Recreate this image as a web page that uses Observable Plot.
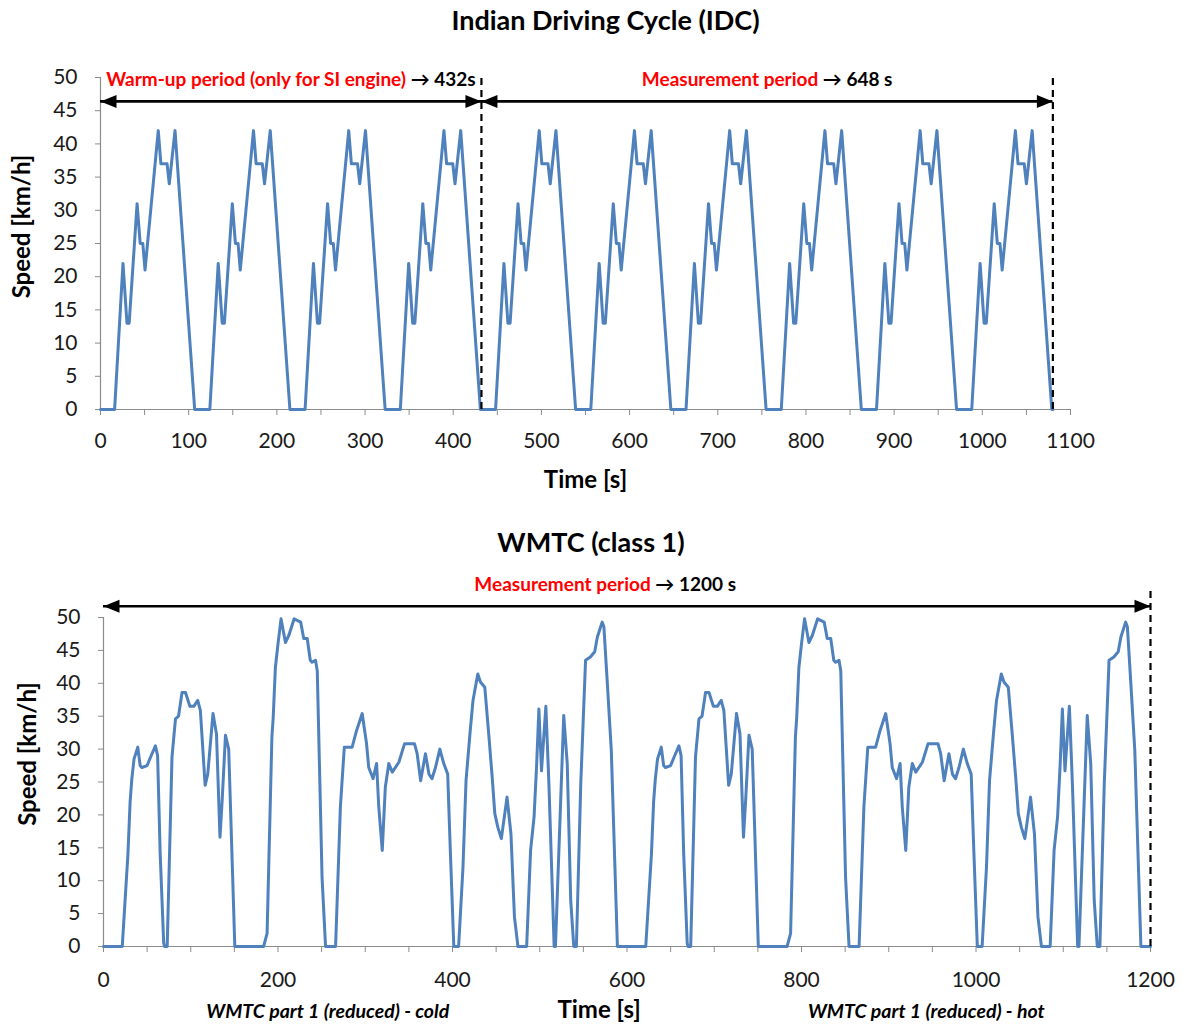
<!DOCTYPE html>
<html><head><meta charset="utf-8">
<script src="https://cdn.jsdelivr.net/npm/d3@7"></script>
<script src="https://cdn.jsdelivr.net/npm/@observablehq/plot@0.6"></script>
<style>
body{margin:0;background:#fff;font-family:Lato,"Open Sans",sans-serif;}
#wrap{position:relative;width:1185px;height:1025px;overflow:hidden;background:#fff;}
.title{position:absolute;left:0;font-weight:bold;font-size:27px;color:#000;text-align:center;white-space:nowrap;line-height:32px;}
.chart{position:absolute;left:0;}
</style></head><body>
<div id="wrap">
<div class="title" style="top:4px;width:1211px">Indian Driving Cycle (IDC)</div>
<div class="chart" id="c1" style="top:40px"></div>
<div class="title" style="top:526px;width:1182px">WMTC (class 1)</div>
<div class="chart" id="c2" style="top:560px"></div>
</div>
<script>
// ---------- IDC data (one 108 s cycle, repeated at the listed starts) ----------
const idcCycleTime  = [0, 16, 25.5, 30, 32.5, 41.5, 45, 48, 50.5, 65.5, 68.5, 75.5, 78, 84.5, 106.8, 108];
const idcCycleSpeed = [0, 0, 22, 13, 13, 31, 25, 25, 21, 42, 37, 37, 34, 42, 0, 0];
const idcCycleStarts = [0, 108, 216, 324, 432, 540, 648, 756, 864, 972];
const idcXTicks  = [0,50,100,150,200,250,300,350,400,450,500,550,600,650,700,750,800,850,900,950,1000,1050,1100];
const idcXLabels = [0,100,200,300,400,500,600,700,800,900,1000,1100];
const idcYTicks  = [0,5,10,15,20,25,30,35,40,45,50];
const idcArrows  = [{x1: 0, x2: 432, y: 46.4}, {x1: 432, x2: 1080, y: 46.4}];
const idcDashed  = [432, 1080];
const idcNotes   = [{x: 216, y: 49.6, text: "Warm-up period (only for SI engine)|\u2192 432s"},
                    {x: 756, y: 49.6, text: "Measurement period|\u2192 648 s"}];

// ---------- WMTC class 1 data (part 1 reduced, 600 s, cold then hot) ----------
const wmtcPartTime = [0,21.5,24.5,28,30.5,32.5,35,39.3,42,44,50,54,59.5,62,65,69,70,73,78.5,82.5,86,90,94,99,103.5,108,111,116.5,119.5,125.5,129.5,133.5,136,139.8,143.5,150.5,183.5,187.5,193,194.5,197,200,203.5,208.5,212.5,218.5,226,229.5,233.5,237,239,243,245,250.5,254.5,266,271.5,276,285,290,296.5,301.5,304,309,313,315.5,319.5,323,327,331,338.5,345,356.5,359.5,363.5,369,373,376.5,380.5,385.5,390,394.5,397.5,401.5,407,412,415.5,420,423.5,429,432,437,441.5,445.5,448.5,452,456,462.5,467,471,475,485,489.5,493.5,496.5,499,502,507,510.5,516.5,518,524,527.5,531.5,535.5,539,542,547,552.5,558,563,566,571.5,573.5,577.5,582,589,600];
const wmtcPartSpeed = [0,0,6.5,14,22,25.5,28.5,30.3,27.5,27.2,27.5,28.8,30.5,29,14,0.5,0,0,28.8,34.6,35,38.6,38.6,36.5,36.5,37.4,35.9,24.5,26.2,35.4,32.3,16.6,22.2,32.1,30,0,0,2,31.8,34.8,42.4,46,49.8,46.2,47.3,49.8,49.3,46.8,46.8,43.5,43.2,43.5,41.9,10.5,0,0,21.2,30.3,30.3,32.8,35.4,30.8,27.2,25.5,27.8,21.2,14.6,24.2,27.8,26.5,28,30.8,30.8,29.3,25.2,29.3,26.2,25.5,27.2,30,27.8,26.2,14.6,0,0,12,25.2,32.3,37.4,41.4,40.2,39.4,32.3,25.7,20.2,18.1,16.4,22.7,17.1,4.5,0,0,14.6,19.7,27.8,36.1,26.7,36.5,24.7,0,0,22.2,35.1,27.8,7,0,0,24.7,43.5,44,44.8,47,49.3,48.6,39.9,29.8,0,0];
const wmtcPartStarts = [0, 600];
const wmtcPartLabels = [{x: 257, text: "WMTC part 1 (reduced) - cold"}, {x: 943, text: "WMTC part 1 (reduced) - hot"}];
const wmtcXTicks  = [0,50,100,150,200,250,300,350,400,450,500,550,600,650,700,750,800,850,900,950,1000,1050,1100,1150,1200];
const wmtcXLabels = [0,200,400,600,800,1000,1200];
const wmtcYTicks  = [0,5,10,15,20,25,30,35,40,45,50];
const wmtcArrows  = [{x1: 0, x2: 1200, y: 51.7}];
const wmtcDashed  = [1200];
const wmtcNotes   = [{x: 575, y: 54.9, text: "Measurement period|\u2192 1200 s"}];
const wmtcTimeLabel = [{x: 568, text: "Time [s]"}];

// ---------- build series ----------
const idcData = idcCycleStarts.flatMap(s => idcCycleTime.map((t, i) => ({time: s + t, speed: idcCycleSpeed[i]})));
const wmtcData = wmtcPartStarts.flatMap(s => wmtcPartTime.map((t, i) => ({time: s + t, speed: wmtcPartSpeed[i]})));

const blue = "#4F81BD", axisGray = "#8c8c8c", tickText = "#1a1a1a";
const font = "Lato, 'Open Sans', sans-serif";
const headRight = {draw(ctx) { ctx.moveTo(0, 0); ctx.lineTo(-16, -6.5); ctx.lineTo(-16, 6.5); ctx.closePath(); }};
const headLeft  = {draw(ctx) { ctx.moveTo(0, 0); ctx.lineTo(16, -6.5); ctx.lineTo(16, 6.5); ctx.closePath(); }};

function annotMarks(arrows, dashed, notes, dashTop) {
  return [
    Plot.ruleX(dashed, {x: d => d, y1: 0, y2: dashTop, stroke: "black", strokeWidth: 2.2, strokeDasharray: "7,5"}),
    Plot.ruleY(arrows, {x1: "x1", x2: "x2", y: "y", stroke: "black", strokeWidth: 2.6}),
    Plot.dot(arrows, {x: "x1", y: "y", symbol: headLeft, r: 5, fill: "black", stroke: "none"}),
    Plot.dot(arrows, {x: "x2", y: "y", symbol: headRight, r: 5, fill: "black", stroke: "none"}),
    Plot.text(notes, {x: "x", y: "y", text: "text", fontWeight: "bold", fontSize: 19, textAnchor: "middle", lineAnchor: "middle", fill: "black"})
  ];
}

function colorize(svg) {
  d3.select(svg).selectAll("text").each(function() {
    const s = this.textContent;
    if (!s.includes("|")) return;
    const [a, b] = s.split("|");
    const sel = d3.select(this);
    sel.text(null);
    sel.append("tspan").attr("fill", "#FF0000").text(a);
    sel.append("tspan").attr("fill", "#000").text(" " + b);
  });
}

const p1 = Plot.plot({
  width: 1185, height: 460,
  marginTop: 37, marginBottom: 91, marginLeft: 100, marginRight: 115,
  style: {fontFamily: font, fontSize: "21px", background: "white", overflow: "visible"},
  x: {domain: [0, 1100]},
  y: {domain: [0, 50]},
  marks: [
    Plot.axisX({ticks: idcXTicks, tickFormat: d => idcXLabels.includes(d) ? String(d) : "", tickSize: 6, tickPadding: 18, stroke: axisGray, fill: tickText, fontSize: 21, label: null}),
    Plot.axisY({ticks: idcYTicks, tickSize: 5, tickPadding: 18, stroke: axisGray, fill: tickText, fontSize: 21, label: null}),
    Plot.ruleY([0], {stroke: axisGray, strokeWidth: 1.2}),
    Plot.ruleX([0], {y1: 0, y2: 50, stroke: axisGray, strokeWidth: 1.2}),
    Plot.line(idcData, {x: "time", y: "speed", stroke: blue, strokeWidth: 3, strokeLinejoin: "round"}),
    ...annotMarks(idcArrows, idcDashed, idcNotes, 50),
    Plot.text(["Speed [km/h]"], {frameAnchor: "left", textAnchor: "middle", dx: -78, dy: -17, rotate: -90, fontWeight: "bold", fontSize: 24, fill: "black"}),
    Plot.text(["Time [s]"], {frameAnchor: "bottom", textAnchor: "middle", dy: 78, fontWeight: "bold", fontSize: 24, fill: "black"})
  ]
});
colorize(p1);
document.getElementById("c1").append(p1);

const p2 = Plot.plot({
  width: 1185, height: 465,
  marginTop: 57, marginBottom: 79, marginLeft: 103, marginRight: 35,
  style: {fontFamily: font, fontSize: "21px", background: "white", overflow: "visible"},
  x: {domain: [0, 1200]},
  y: {domain: [0, 50]},
  marks: [
    Plot.axisX({ticks: wmtcXTicks, tickFormat: d => wmtcXLabels.includes(d) ? String(d) : "", tickSize: 6, tickPadding: 20, stroke: axisGray, fill: tickText, fontSize: 21, label: null}),
    Plot.axisY({ticks: wmtcYTicks, tickSize: 5, tickPadding: 18, stroke: axisGray, fill: tickText, fontSize: 21, label: null}),
    Plot.ruleY([0], {stroke: axisGray, strokeWidth: 1.2}),
    Plot.ruleX([0], {y1: 0, y2: 50, stroke: axisGray, strokeWidth: 1.2}),
    Plot.line(wmtcData, {x: "time", y: "speed", stroke: blue, strokeWidth: 3, strokeLinejoin: "round"}),
    ...annotMarks(wmtcArrows, wmtcDashed, wmtcNotes, 54.5),
    Plot.text(["Speed [km/h]"], {frameAnchor: "left", textAnchor: "middle", dx: -75, dy: -28, rotate: -90, fontWeight: "bold", fontSize: 24, fill: "black"}),
    Plot.text(wmtcTimeLabel, {x: "x", text: "text", frameAnchor: "bottom", textAnchor: "middle", dy: 71, fontWeight: "bold", fontSize: 24, fill: "black"}),
    Plot.text(wmtcPartLabels, {x: "x", text: "text", frameAnchor: "bottom", textAnchor: "middle", dy: 71, fontWeight: "bold", fontStyle: "italic", fontSize: 19.5, fill: "black"})
  ]
});
colorize(p2);
document.getElementById("c2").append(p2);
</script>
</body></html>
